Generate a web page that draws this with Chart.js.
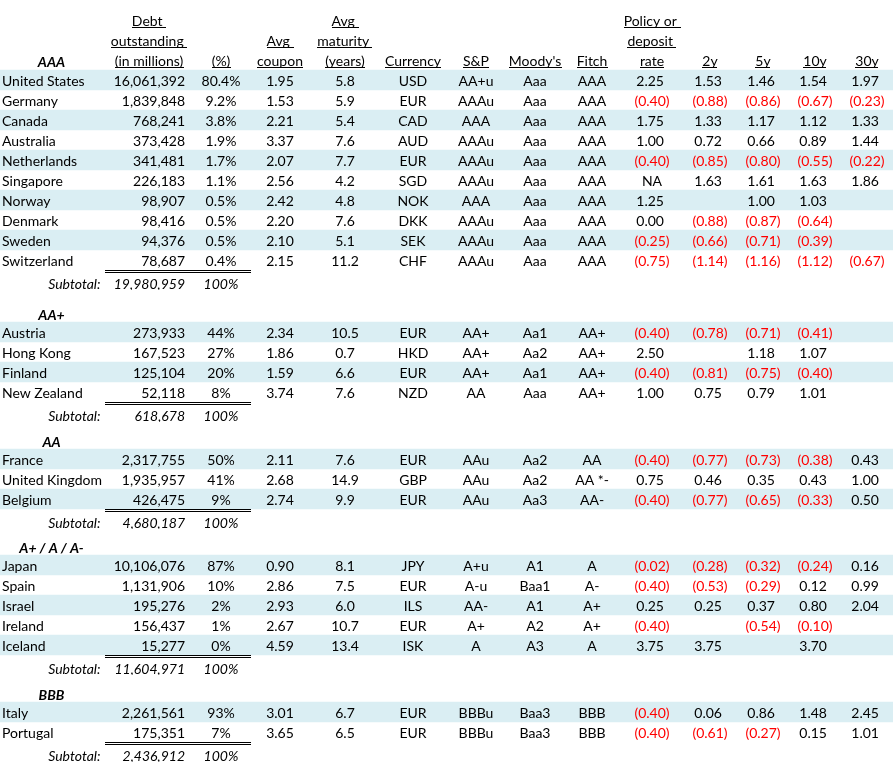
<!DOCTYPE html>
<html>
<head>
<meta charset="utf-8">
<script src="https://cdn.jsdelivr.net/npm/chart.js@4.4.0/dist/chart.umd.min.js"></script>
<style>
  html, body { margin: 0; padding: 0; background: #fff; overflow: hidden; }
  .block { position: absolute; left: 0; width: 893px; }
</style>
</head>
<body>
<script>
// ---- data ----
const groups = ["AAA", "AA+", "AA", "A+ / A / A-", "BBB"];
const groupSize = [10, 4, 3, 5, 2];
const countries = ["United States", "Germany", "Canada", "Australia", "Netherlands", "Singapore", "Norway", "Denmark", "Sweden", "Switzerland",
  "Austria", "Hong Kong", "Finland", "New Zealand",
  "France", "United Kingdom", "Belgium",
  "Japan", "Spain", "Israel", "Ireland", "Iceland",
  "Italy", "Portugal"];
const debt = [16061392, 1839848, 768241, 373428, 341481, 226183, 98907, 98416, 94376, 78687,
  273933, 167523, 125104, 52118,
  2317755, 1935957, 426475,
  10106076, 1131906, 195276, 156437, 15277,
  2261561, 175351];
const share = [80.4, 9.2, 3.8, 1.9, 1.7, 1.1, 0.5, 0.5, 0.5, 0.4, 44, 27, 20, 8, 50, 41, 9, 87, 10, 2, 1, 0, 93, 7];
const shareDecimals = [1, 0, 0, 0, 0];
const coupon = [1.95, 1.53, 2.21, 3.37, 2.07, 2.56, 2.42, 2.20, 2.10, 2.15, 2.34, 1.86, 1.59, 3.74, 2.11, 2.68, 2.74, 0.90, 2.86, 2.93, 2.67, 4.59, 3.01, 3.65];
const maturity = [5.8, 5.9, 5.4, 7.6, 7.7, 4.2, 4.8, 7.6, 5.1, 11.2, 10.5, 0.7, 6.6, 7.6, 7.6, 14.9, 9.9, 8.1, 7.5, 6.0, 10.7, 13.4, 6.7, 6.5];
const currency = ["USD", "EUR", "CAD", "AUD", "EUR", "SGD", "NOK", "DKK", "SEK", "CHF", "EUR", "HKD", "EUR", "NZD", "EUR", "GBP", "EUR", "JPY", "EUR", "ILS", "EUR", "ISK", "EUR", "EUR"];
const sp = ["AA+u", "AAAu", "AAA", "AAAu", "AAAu", "AAAu", "AAA", "AAAu", "AAAu", "AAAu", "AA+", "AA+", "AA+", "AA", "AAu", "AAu", "AAu", "A+u", "A-u", "AA-", "A+", "A", "BBBu", "BBBu"];
const moodys = ["Aaa", "Aaa", "Aaa", "Aaa", "Aaa", "Aaa", "Aaa", "Aaa", "Aaa", "Aaa", "Aa1", "Aa2", "Aa1", "Aaa", "Aa2", "Aa2", "Aa3", "A1", "Baa1", "A1", "A2", "A3", "Baa3", "Baa3"];
const fitch = ["AAA", "AAA", "AAA", "AAA", "AAA", "AAA", "AAA", "AAA", "AAA", "AAA", "AA+", "AA+", "AA+", "AA+", "AA", "AA *-", "AA-", "A", "A-", "A+", "A+", "A", "BBB", "BBB"];
const policy = [2.25, -0.40, 1.75, 1.00, -0.40, "NA", 1.25, 0.00, -0.25, -0.75, -0.40, 2.50, -0.40, 1.00, -0.40, 0.75, -0.40, -0.02, -0.40, 0.25, -0.40, 3.75, -0.40, -0.40];
const y2 = [1.53, -0.88, 1.33, 0.72, -0.85, 1.63, null, -0.88, -0.66, -1.14, -0.78, null, -0.81, 0.75, -0.77, 0.46, -0.77, -0.28, -0.53, 0.25, null, 3.75, 0.06, -0.61];
const y5 = [1.46, -0.86, 1.17, 0.66, -0.80, 1.61, 1.00, -0.87, -0.71, -1.16, -0.71, 1.18, -0.75, 0.79, -0.73, 0.35, -0.65, -0.32, -0.29, 0.37, -0.54, null, 0.86, -0.27];
const y10 = [1.54, -0.67, 1.12, 0.89, -0.55, 1.63, 1.03, -0.64, -0.39, -1.12, -0.41, 1.07, -0.40, 1.01, -0.38, 0.43, -0.33, -0.24, 0.12, 0.80, -0.10, 3.70, 1.48, 0.15];
const y30 = [1.97, -0.23, 1.33, 1.44, -0.22, 1.86, null, null, null, -0.67, null, null, null, null, 0.43, 1.00, 0.50, 0.16, 0.99, 2.04, null, null, 2.45, 1.01];
const subtotalDebt = [19980959, 618678, 4680187, 11604971, 2436912];
const subtotalShare = ["100%", "100%", "100%", "100%", "100%"];

// header text, three lines per column (trailing spaces are underlined in the sheet)
const headerLines = {
  debt: ["Debt ", "outstanding ", "(in millions)"],
  share: ["", "", "(%)"],
  coupon: ["", "Avg ", "coupon"],
  maturity: ["Avg ", "maturity ", "(years)"],
  currency: ["", "", "Currency"],
  sp: ["", "", "S&P"],
  moodys: ["", "", "Moody's"],
  fitch: ["", "", "Fitch"],
  policy: ["Policy or ", "deposit ", "rate"],
  y2: ["", "", "2y"],
  y5: ["", "", "5y"],
  y10: ["", "", "10y"],
  y30: ["", "", "30y"]
};

// ---- layout / style ----
const W = 893;
const ROW = 20;
const blockTop = [10, 302, 429, 535, 682];
const colX = { debt: 149, share: 221, coupon: 280, maturity: 345, currency: 413, sp: 476, moodys: 535, fitch: 592, policy: 652, y2: 710, y5: 763, y10: 815, y30: 867 };
const nameLeft = 2, debtRight = 185, groupX = 51.5, subtotalRight = 100.5;
const lineFrom = 105, lineTo = 251;
const FONT = "Lato";
const SIZE = 14;
const stripeColor = "#DAEEF3";
const red = "#FF0000";

const fmtInt = v => v.toLocaleString("en-US");
function fmtRate(v) {
  if (v === null) return null;
  if (typeof v === "string") return { t: v, c: "#000", pad: false };
  if (v < 0) return { t: "(" + Math.abs(v).toFixed(2) + ")", c: red, pad: false };
  return { t: v.toFixed(2), c: "#000", pad: true };
}

// build row descriptors for each block
const blocks = [];
let start = 0;
groups.forEach((g, gi) => {
  const rows = [];
  if (gi === 0) {
    rows.push({ type: "header", line: 0 }, { type: "header", line: 1 }, { type: "header", line: 2, group: g });
  } else {
    rows.push({ type: "group", group: g });
  }
  for (let k = 0; k < groupSize[gi]; k++) rows.push({ type: "data", idx: start + k, stripe: k % 2 === 0 });
  rows.push({ type: "subtotal", g: gi });
  start += groupSize[gi];
  blocks.push(rows);
});

function text(ctx, str, x, y, align, color, style) {
  ctx.font = style + " " + SIZE + "px " + FONT;
  ctx.textAlign = align;
  ctx.fillStyle = color;
  ctx.fillText(str, x, y);
}

const tablePlugin = {
  id: "tableText",
  afterDatasetsDraw(chart) {
    const ctx = chart.ctx;
    const xs = chart.scales.x, ys = chart.scales.y;
    const rows = chart.config.options.rowsMeta;
    const band = Math.abs(ys.getPixelForValue(1) - ys.getPixelForValue(0)) || ROW;
    ctx.save();
    ctx.textBaseline = "alphabetic";
    rows.forEach((r, ri) => {
      const cy = ys.getPixelForValue(ri);
      const base = cy + 6;
      if (r.type === "header") {
        Object.keys(headerLines).forEach(k => {
          const s = headerLines[k][r.line];
          if (!s) return;
          const x = xs.getPixelForValue(colX[k]);
          text(ctx, s, x, base, "center", "#000", "normal");
          const w = ctx.measureText(s).width;
          ctx.fillStyle = "#000";
          ctx.fillRect(Math.round(x - w / 2), Math.round(base + 1), Math.round(w), 1);
        });
        if (r.group) text(ctx, r.group, xs.getPixelForValue(groupX), base + 1, "center", "#000", "italic bold");
      } else if (r.type === "group") {
        text(ctx, r.group, xs.getPixelForValue(groupX), base + 1.5, "center", "#000", "italic bold");
      } else if (r.type === "data") {
        const i = r.idx;
        const gi = blocks.indexOf(rows);
        text(ctx, countries[i], xs.getPixelForValue(nameLeft), base, "left", "#000", "normal");
        text(ctx, fmtInt(debt[i]), xs.getPixelForValue(debtRight), base, "right", "#000", "normal");
        text(ctx, share[i].toFixed(shareDecimals[gi]) + "%", xs.getPixelForValue(colX.share), base, "center", "#000", "normal");
        text(ctx, coupon[i].toFixed(2), xs.getPixelForValue(colX.coupon), base, "center", "#000", "normal");
        text(ctx, maturity[i].toFixed(1), xs.getPixelForValue(colX.maturity), base, "center", "#000", "normal");
        text(ctx, currency[i], xs.getPixelForValue(colX.currency), base, "center", "#000", "normal");
        text(ctx, sp[i], xs.getPixelForValue(colX.sp), base, "center", "#000", "normal");
        text(ctx, moodys[i], xs.getPixelForValue(colX.moodys), base, "center", "#000", "normal");
        text(ctx, fitch[i], xs.getPixelForValue(colX.fitch), base, "center", "#000", "normal");
        [["policy", policy], ["y2", y2], ["y5", y5], ["y10", y10], ["y30", y30]].forEach(([k, arr]) => {
          const f = fmtRate(arr[i]);
          if (!f) return;
          ctx.font = SIZE + "px " + FONT;
          const shift = f.pad ? ctx.measureText(")").width / 2 : 0;
          text(ctx, f.t, xs.getPixelForValue(colX[k]) - shift, base, "center", f.c, "normal");
        });
      } else if (r.type === "subtotal") {
        const sb = base + 3;
        text(ctx, "Subtotal:", xs.getPixelForValue(subtotalRight), sb, "right", "#000", "italic");
        text(ctx, fmtInt(subtotalDebt[r.g]), xs.getPixelForValue(debtRight), sb, "right", "#000", "italic");
        text(ctx, subtotalShare[r.g], xs.getPixelForValue(colX.share), sb, "center", "#000", "italic");
        // double rule on top of subtotal row
        const top = Math.round(cy - band / 2);
        const x0 = xs.getPixelForValue(lineFrom), x1 = xs.getPixelForValue(lineTo);
        ctx.fillStyle = "#000";
        ctx.fillRect(x0, top, x1 - x0, 1);
        ctx.fillRect(x0, top + 2, x1 - x0, 1);
      }
    });
    ctx.restore();
  }
};

function build() {
  blocks.forEach((rows, bi) => {
    const div = document.createElement("div");
    div.className = "block";
    div.style.top = blockTop[bi] + "px";
    div.style.height = rows.length * ROW + "px";
    const cv = document.createElement("canvas");
    div.appendChild(cv);
    document.body.appendChild(div);
    new Chart(cv, {
      type: "bar",
      data: {
        labels: rows.map((r, i) => r.type === "data" ? countries[r.idx] : r.type + i),
        datasets: [{
          data: rows.map(r => r.type === "data" && r.stripe ? [0, W] : null),
          backgroundColor: stripeColor,
          borderWidth: 0,
          barPercentage: 1,
          categoryPercentage: 1
        }]
      },
      options: {
        rowsMeta: rows,
        indexAxis: "y",
        responsive: true,
        maintainAspectRatio: false,
        animation: false,
        layout: { padding: 0 },
        events: [],
        plugins: { legend: { display: false }, tooltip: { enabled: false } },
        scales: {
          x: { type: "linear", min: 0, max: W, display: false },
          y: { type: "category", display: false, offset: true }
        }
      },
      plugins: [tablePlugin]
    });
  });
}

if (document.fonts && document.fonts.load) {
  Promise.all([
    document.fonts.load(SIZE + "px " + FONT),
    document.fonts.load("italic " + SIZE + "px " + FONT),
    document.fonts.load("italic bold " + SIZE + "px " + FONT)
  ]).then(build, build);
} else {
  build();
}
</script>
</body>
</html>
